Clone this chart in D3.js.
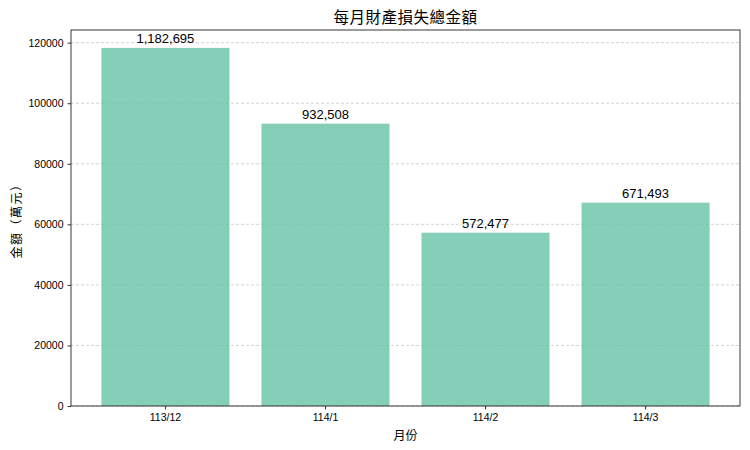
<!DOCTYPE html>
<html>
<head>
<meta charset="utf-8">
<script src="https://cdn.jsdelivr.net/npm/d3@7"></script>
<style>
  body { margin: 0; background: #fff; }
  text { font-family: "Liberation Sans", Arial, "Noto Sans CJK TC", sans-serif; }
</style>
</head>
<body>
<script>
// Data
const months = ["113/12", "114/1", "114/2", "114/3"];
const totals = [1182695, 932508, 572477, 671493];   // labels shown above bars
const barValues = [118269.5, 93250.8, 57247.7, 67149.3]; // bar heights (axis units)
const yTicks = [0, 20000, 40000, 60000, 80000, 100000, 120000];

const W = 750, H = 450;
const margin = {top: 30, right: 10, bottom: 44, left: 71};
const width = W - margin.left - margin.right;
const height = H - margin.top - margin.bottom;

const svg = d3.select("body").append("svg")
    .attr("width", W)
    .attr("height", H);

const g = svg.append("g")
    .attr("transform", "translate(" + margin.left + "," + margin.top + ")");

// Scales (matplotlib-like 5% margins)
const x = d3.scaleBand()
    .domain(months)
    .range([0, width])
    .paddingInner(0.2)
    .paddingOuter(0.19);

const y = d3.scaleLinear()
    .domain([0, d3.max(barValues) * 1.05])
    .range([height, 0]);

// Grid lines
g.append("g")
    .selectAll("line")
    .data(yTicks)
    .enter().append("line")
    .attr("x1", 0)
    .attr("x2", width)
    .attr("y1", d => y(d))
    .attr("y2", d => y(d))
    .attr("stroke", "#b0b0b0")
    .attr("stroke-opacity", 0.7)
    .attr("stroke-dasharray", "3,2")
    .attr("stroke-width", 0.8);

// Bars
g.selectAll(".bar")
    .data(barValues)
    .enter().append("rect")
    .attr("class", "bar")
    .attr("x", (d, i) => x(months[i]))
    .attr("width", x.bandwidth())
    .attr("y", d => y(d))
    .attr("height", d => height - y(d))
    .attr("fill", "#66c2a5")
    .attr("fill-opacity", 0.8);

// Value labels
g.selectAll(".lbl")
    .data(barValues)
    .enter().append("text")
    .attr("class", "lbl")
    .attr("x", (d, i) => x(months[i]) + x.bandwidth() / 2)
    .attr("y", d => y(d) - 4.5)
    .attr("text-anchor", "middle")
    .attr("font-size", "13px")
    .attr("fill", "#000")
    .text((d, i) => d3.format(",")(totals[i]));

// Axes
const xAxis = g.append("g")
    .attr("transform", "translate(0," + height + ")")
    .call(d3.axisBottom(x).tickSizeOuter(0).tickSize(3.5).tickPadding(4));

const yAxis = g.append("g")
    .call(d3.axisLeft(y).tickValues(yTicks).tickFormat(d3.format("d")).tickSizeOuter(0).tickSize(3.5).tickPadding(4));

[xAxis, yAxis].forEach(a => {
    a.selectAll("text").attr("font-size", "10.5px").attr("fill", "#000");
    a.selectAll("line").attr("stroke", "#000").attr("stroke-width", 0.8);
    a.select(".domain").remove();
});

// Frame
g.append("rect")
    .attr("width", width)
    .attr("height", height)
    .attr("fill", "none")
    .attr("stroke", "#222")
    .attr("stroke-width", 0.9);

// Title and axis labels
svg.append("text")
    .attr("x", margin.left + width / 2)
    .attr("y", 23)
    .attr("text-anchor", "middle")
    .attr("font-size", "15.5px")
    .attr("font-family", "'Noto Sans CJK TC', sans-serif")
    .attr("letter-spacing", "0.5px")
    .text("每月財產損失總金額");

svg.append("text")
    .attr("x", margin.left + width / 2)
    .attr("y", 440)
    .attr("text-anchor", "middle")
    .attr("font-size", "12px")
    .attr("font-family", "'Noto Sans CJK TC', sans-serif")
    .text("月份");

svg.append("text")
    .attr("transform", "translate(21," + (margin.top + height / 2) + ") rotate(-90)")
    .attr("text-anchor", "middle")
    .attr("font-size", "12px")
    .attr("font-family", "'Noto Sans CJK TC', sans-serif")
    .attr("letter-spacing", "1.5px")
    .text("金額（萬元）");
</script>
</body>
</html>
